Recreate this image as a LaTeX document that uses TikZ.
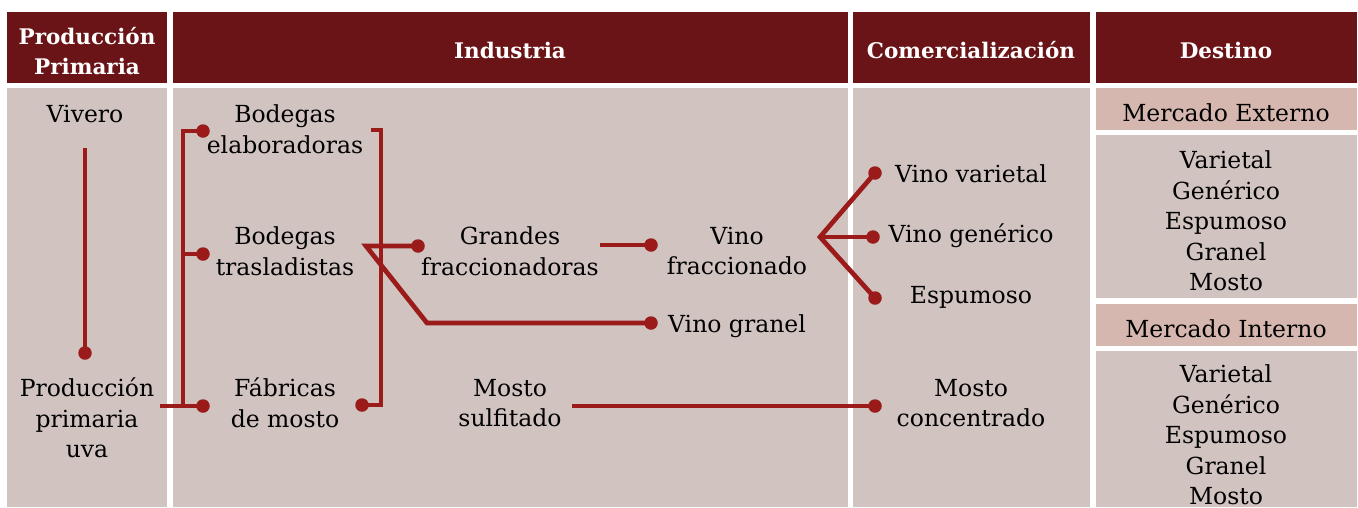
\documentclass[tikz,border=0pt]{standalone}
\usepackage{fontspec}
\setmainfont{DejaVu Serif}
\usetikzlibrary{positioning}
\definecolor{vino}{HTML}{6B1417}
\definecolor{fondo}{HTML}{D0C3C0}
\definecolor{rosado}{HTML}{D5B7AF}
\definecolor{linea}{HTML}{9B1B1B}
\tikzset{
	txt/.style={align=center, font=\fontsize{23.5}{30.5}\selectfont, inner sep=0pt},
	cab/.style={align=center, text=white, font=\bfseries\fontsize{21.5}{30}\selectfont, inner sep=0pt},
	con/.style={draw=linea, line width=4.7pt},
	pt/.style={circle, fill=linea, inner sep=0pt, minimum size=13.5pt},
}

\begin{document}
\begin{tikzpicture}[x=1pt, y=-1pt]
			%%%%% FONDO %%%%%
			\useasboundingbox (0, 0) rectangle (1358, 507);
			
			\fill[vino] (7, 12) rectangle (167, 83);
			\fill[vino] (173, 12) rectangle (848, 83);
			\fill[vino] (853, 12) rectangle (1090, 83);
			\fill[vino] (1096, 12) rectangle (1357, 83);
			
			\fill[fondo] (7, 88) rectangle (167, 507);
			\fill[fondo] (173, 88) rectangle (848, 507);
			\fill[fondo] (853, 88) rectangle (1090, 507);
			\fill[rosado] (1096, 88) rectangle (1357, 130);
			\fill[fondo] (1096, 135) rectangle (1357, 298);
			\fill[rosado] (1096, 304) rectangle (1357, 346);
			\fill[fondo] (1096, 351) rectangle (1357, 507);
			
			%%%%% CABECERAS %%%%%
			\node[cab] (hprod) at (87, 51) {Producción\\Primaria};
			\node[cab] (hind) at (510, 50) {Industria};
			\node[cab] (hcom) at (971, 50) {Comercialización};
			\node[cab] (hdes) at (1226, 50) {Destino};
			
			%%%%% TEXTOS %%%%%
			\node[txt] (viv) at (85, 114) {Vivero};
			\node[txt] (uva) at (87, 418) {Producción\\primaria\\uva};
			\node[txt] (elab) at (285, 129) {Bodegas\\elaboradoras};
			\node[txt] (tras) at (285, 251) {Bodegas\\trasladistas};
			\node[txt] (fab) at (285, 403) {Fábricas\\de mosto};
			\node[txt] (gfr) at (510, 251) {Grandes\\fraccionadoras};
			\node[txt] (vfr) at (737, 251) {Vino\\fraccionado};
			\node[txt] (vgr) at (737, 326) {Vino granel};
			\node[txt] (msu) at (510, 403) {Mosto\\sulfitado};
			\node[txt] (vvar) at (971, 174) {Vino varietal};
			\node[txt] (vgen) at (971, 236) {Vino genérico};
			\node[txt] (esp) at (971, 297) {Espumoso};
			\node[txt] (mco) at (971, 403) {Mosto\\concentrado};
			\node[txt] (mext) at (1226, 113) {Mercado Externo};
			\node[txt] (lext) at (1226, 221) {Varietal\\Genérico\\Espumoso\\Granel\\Mosto};
			\node[txt] (mint) at (1226, 329) {Mercado Interno};
			\node[txt] (lint) at (1226, 435) {Varietal\\Genérico\\Espumoso\\Granel\\Mosto};
			
			%%%%% PUNTOS %%%%%
			\node[pt] (puva) at (85, 353) {};
			\node[pt] (pelab) at (203, 131) {};
			\node[pt] (ptras) at (203, 254) {};
			\node[pt] (pfab) at (203, 406) {};
			\node[pt] (pfabr) at (362, 405) {};
			\node[pt] (pgfr) at (418, 246) {};
			\node[pt] (pvgr) at (651, 323) {};
			\node[pt] (pvfr) at (651, 245) {};
			\node[pt] (pvar) at (875, 173) {};
			\node[pt] (pgen) at (873, 237) {};
			\node[pt] (pesp) at (875, 298) {};
			\node[pt] (pmco) at (875, 406) {};
			
			%%%%% CONECTORES %%%%%
			\coordinate (cviv) at (85, 148);
			\coordinate (cuva) at (160, 406);
			\coordinate (tsup) at (183, 131);
			\coordinate (tmed) at (183, 254);
			\coordinate (tinf) at (183, 406);
			\coordinate (bsup) at (371, 130);
			\coordinate (besq) at (381, 130);
			\coordinate (binf) at (381, 405);
			\coordinate (cruce) at (366, 246);
			\coordinate (codo) at (427, 323);
			\coordinate (cgfr) at (600, 245);
			\coordinate (abanico) at (820, 237);
			\coordinate (cmsu) at (572, 406);
			
			\draw[con] (cviv) -- (puva.center);
			\draw[con] (pelab.center) -- (tsup) -- (tinf);
			\draw[con] (tmed) -- (ptras.center);
			\draw[con] (cuva) -- (pfab.center);
			\draw[con] (bsup) -- (besq) -- (binf) -- (pfabr.center);
			\draw[con] (pgfr.center) -- (cruce) -- (codo) -- (pvgr.center);
			\draw[con] (cgfr) -- (pvfr.center);
			\draw[con] (pvar.center) -- (abanico) -- (pesp.center);
			\draw[con] (abanico) -- (pgen.center);
			\draw[con] (cmsu) -- (pmco.center);
			
			%%%%% FIN %%%%%
\end{tikzpicture}
\end{document}
